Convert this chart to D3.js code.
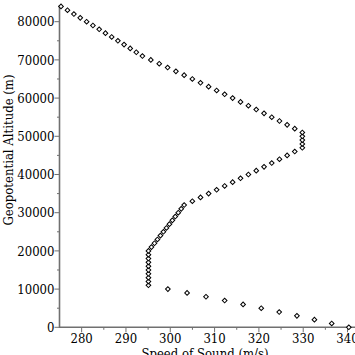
<!DOCTYPE html>
<html><head><meta charset="utf-8">
<script src="https://cdn.jsdelivr.net/npm/d3@7"></script>
<style>
html,body{margin:0;padding:0;background:#fff;}
svg{display:block;}
text{font-family:'DejaVu Serif Condensed','DejaVu Serif',serif;font-size:13px;fill:#000;}
</style></head>
<body>
<svg id="chart" width="355" height="355"></svg>
<script>
// Geopotential altitude (m), one point every 1000 m
const altitudes = [0,1000,2000,3000,4000,5000,6000,7000,8000,9000,10000,
  11000,12000,13000,14000,15000,16000,17000,18000,19000,20000,
  21000,22000,23000,24000,25000,26000,27000,28000,29000,30000,31000,32000,
  33000,34000,35000,36000,37000,38000,39000,40000,41000,42000,43000,44000,45000,46000,
  47000,48000,49000,50000,51000,
  52000,53000,54000,55000,56000,57000,58000,59000,60000,61000,62000,63000,64000,65000,66000,67000,68000,69000,70000,71000,
  72000,73000,74000,75000,76000,77000,78000,79000,80000,81000,82000,83000,84000];
// Speed of sound (m/s)
const speeds = [340.29,336.43,332.53,328.58,324.58,320.53,316.43,312.27,308.06,303.79,299.46,
  295.07,295.07,295.07,295.07,295.07,295.07,295.07,295.07,295.07,295.07,
  295.75,296.43,297.10,297.78,298.45,299.13,299.80,300.47,301.13,301.80,302.47,303.13,
  304.98,306.82,308.65,310.46,312.27,314.07,315.85,317.63,319.40,321.16,322.90,324.64,326.37,328.09,
  329.80,329.80,329.80,329.80,329.80,
  328.09,326.37,324.64,322.90,321.16,319.40,317.63,315.85,314.07,312.27,310.46,308.65,306.82,304.98,303.13,301.27,299.40,297.51,295.61,293.71,
  292.33,290.96,289.57,288.18,286.78,285.37,283.96,282.54,281.12,279.68,278.25,276.80,275.34];
const xTicks = [280,290,300,310,320,330,340];
const yTicks = [0,10000,20000,30000,40000,50000,60000,70000,80000];
const xMinor = [285,295,305,315,325,335];
const yMinor = [5000,15000,25000,35000,45000,55000,65000,75000];
const xTitle = "Speed of Sound (m/s)";
const yTitle = "Geopotential Altitude (m)";

const svg = d3.select("#chart");
const x = d3.scaleLinear().domain([275, 341.8]).range([59.5, 355.5]);
const y = d3.scaleLinear().domain([0, 84000]).range([327.3, 6.4]);
const axisColor = "#707070";

// x axis
const gx = svg.append("g").attr("transform", `translate(0,${y(0)})`);
gx.append("line").attr("x1", x.range()[0]-0.5).attr("x2", 355).attr("stroke", axisColor).attr("stroke-width", 1.6);
gx.selectAll(".maj").data(xTicks).join("line")
  .attr("x1", d => x(d)).attr("x2", d => x(d)).attr("y1", 0).attr("y2", 5)
  .attr("stroke", axisColor).attr("stroke-width", 1);
gx.selectAll(".min").data(xMinor).join("line")
  .attr("x1", d => x(d)).attr("x2", d => x(d)).attr("y1", 0).attr("y2", 2.5)
  .attr("stroke", axisColor).attr("stroke-width", 1);
gx.selectAll("text").data(xTicks).join("text")
  .attr("x", d => x(d)).attr("y", 15.5).attr("text-anchor", "middle").text(d => d);

// y axis
const gy = svg.append("g").attr("transform", `translate(${x(275)},0)`);
gy.append("line").attr("y1", 5).attr("y2", y(0)+0.8).attr("stroke", axisColor).attr("stroke-width", 1.6);
gy.selectAll(".maj").data(yTicks).join("line")
  .attr("y1", d => y(d)).attr("y2", d => y(d)).attr("x1", 0).attr("x2", -5)
  .attr("stroke", axisColor).attr("stroke-width", 1);
gy.selectAll(".min").data(yMinor).join("line")
  .attr("y1", d => y(d)).attr("y2", d => y(d)).attr("x1", 0).attr("x2", -2.5)
  .attr("stroke", axisColor).attr("stroke-width", 1);
gy.selectAll("text").data(yTicks).join("text")
  .attr("x", -5).attr("y", d => y(d)).attr("dy", "0.36em").attr("text-anchor", "end").text(d => d);

// titles
svg.append("text").attr("x", 205).attr("y", 357.5).attr("text-anchor", "middle").text(xTitle);
svg.append("text").attr("transform", "translate(13,150) rotate(-90)").attr("text-anchor", "middle").text(yTitle);

// points
const pts = altitudes.map((a, i) => ({a, s: speeds[i]}));
const sym = d3.symbol().type(d3.symbolSquare).size(11);
svg.append("g").selectAll("path").data(pts).join("path")
  .attr("d", sym)
  .attr("transform", d => `translate(${x(d.s)},${y(d.a)}) rotate(45)`)
  .attr("fill", "#fff").attr("stroke", "#000").attr("stroke-width", 1);
</script>
</body></html>
